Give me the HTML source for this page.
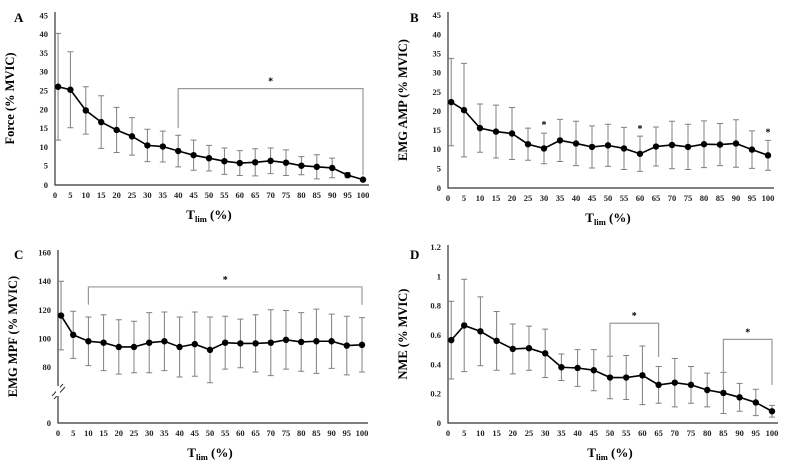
<!DOCTYPE html>
<html><head><meta charset="utf-8"><style>
html,body{margin:0;padding:0;background:#fff;}
svg{display:block;font-family:"Liberation Serif",serif;font-weight:bold;}
</style></head><body>
<svg id="c" width="787" height="473" viewBox="0 0 787 473" xmlns="http://www.w3.org/2000/svg"></svg>
<script>
const xCats=[0,5,10,15,20,25,30,35,40,45,50,55,60,65,70,75,80,85,90,95,100];
const xPos=[1,5,10,15,20,25,30,35,40,45,50,55,60,65,70,75,80,85,90,95,100];
const forceMean=[26,25.2,19.7,16.6,14.5,12.8,10.4,10.1,8.9,7.8,7.0,6.2,5.7,5.9,6.3,5.8,5.0,4.7,4.4,2.5,1.3];
const forceSd=[14.2,10.1,6.3,7,6,5,4.3,4.1,4.2,4,3.4,3.5,3.3,3.6,3.4,3.4,2.4,3.2,2.6,0.7,0.3];
const ampMean=[22.3,20.2,15.5,14.6,14.1,11.3,10.2,12.3,11.5,10.6,11,10.2,8.8,10.7,11.1,10.6,11.3,11.2,11.5,9.9,8.4];
const ampSd=[11.4,12.2,6.3,6.9,6.8,4.2,4,5.5,5.8,5.5,5.5,5.5,4.6,5.1,6.2,5.9,6.1,5.5,6.2,4.9,3.9];
const mpfMean=[116,102.5,98,97,94,94,97,98,94,96,92,97,96.5,96.5,97,99,97.5,98,98,95,95.5];
const mpfSd=[24,16.5,17,19.5,19,18,21,20.5,21,22.5,23,18.5,17,20,23,20.5,20.5,22.5,19,20.5,19];
const nmeMean=[0.565,0.665,0.625,0.56,0.505,0.51,0.475,0.38,0.375,0.36,0.31,0.31,0.325,0.26,0.275,0.26,0.225,0.205,0.175,0.14,0.08];
const nmeSd=[0.265,0.315,0.235,0.2,0.17,0.15,0.165,0.09,0.125,0.14,0.145,0.15,0.2,0.125,0.165,0.125,0.115,0.14,0.095,0.09,0.04];
const forceTicks=[0,5,10,15,20,25,30,35,40,45];
const ampTicks=[0,5,10,15,20,25,30,35,40,45];
const mpfTicks=[0,80,100,120,140,160];
const nmeTicks=["0","0.2","0.4","0.6","0.8","1","1.2"];

const svg=document.getElementById('c');
const NS='http://www.w3.org/2000/svg';
function mk(tag,attrs,parent){const e=document.createElementNS(NS,tag);for(const k in attrs)e.setAttribute(k,attrs[k]);(parent||svg).appendChild(e);return e;}
function txt(s,attrs,parent){const e=mk('text',attrs,parent);e.textContent=s;return e;}

function panel(o){
  const g=mk('g',{});
  
  
  const X=v=>o.x0+(v/100)*(o.x1-o.x0);
  const Y=o.Y;
  // axes
  const ax=mk('path',{d:`M${o.x0} ${o.yTop}V${o.yBot}H${o.x1+6}`,stroke:'#333',fill:'none','stroke-width':1.2},g);
  
  
  // y ticks
  o.ticks.forEach(t=>{
    const l=txt(String(t),{x:o.x0-7,y:(t==0?o.yBot:Y(parseFloat(t)))+3,'text-anchor':'end','font-size':8.5,fill:'#222'},g);
    
    
  });
  // x labels
  xCats.forEach(c=>{
    const l=txt(String(c),{x:X(c),y:o.yBot+13,'text-anchor':'middle','font-size':8.5,fill:'#222'},g);
    
    
  });
  // error bars
  o.mean.forEach((m,i)=>{
    const x=X(xPos[i]),hi=Y(m+o.sd[i]),lo=Math.min(Y(Math.max(m-o.sd[i],o.minV)),o.yBot);
    const e=mk('path',{d:`M${x} ${hi}V${lo}M${x-3} ${hi}H${x+3}M${x-3} ${lo}H${x+3}`,stroke:'#808080','stroke-width':1,fill:'none'},g);
    
    
  });
  // line
  const ln=mk('polyline',{points:o.mean.map((m,i)=>X(xPos[i])+','+Y(m)).join(' '),fill:'none',stroke:'#000','stroke-width':1.6},g);
  
  
  o.mean.forEach((m,i)=>{
    const p=mk('circle',{cx:X(xPos[i]),cy:Y(m),r:3.2,fill:'#000'},g);
    
    
  });
  // brackets
  (o.brackets||[]).forEach(b=>{
    const yb=Y(b[2]);
    const br=mk('path',{d:`M${X(b[0])} ${Y(b[3])}V${yb}H${X(b[1])}V${Y(b[4])}`,stroke:'#999','stroke-width':1.2,fill:'none'},g);
    
    
    const s=txt('*',{x:(X(b[0])+X(b[1]))/2,y:yb-4,'text-anchor':'middle','font-size':10},g);
    
    
  });
  (o.stars||[]).forEach(s=>{
    const t=txt('*',{x:X(s[0]),y:Y(s[1])+3,'text-anchor':'middle','font-size':10},g);
    
    
  });
  // labels
  const pl=txt(o.letter,{x:o.lx,y:o.ly,'font-size':13},g);
  
  
  const yc=(o.yTop+o.yBot)/2;
  const yt=txt(o.ytitle,{x:o.x0-41,y:yc,'text-anchor':'middle','font-size':12.5,transform:`rotate(-90 ${o.x0-41} ${yc})`},g);
  
  
  const xt=mk('text',{x:(o.x0+o.x1)/2,y:o.yBot+34,'text-anchor':'middle','font-size':13},g);
  xt.innerHTML='T<tspan font-size="8.5" dy="3">lim</tspan><tspan dy="-3"> (%)</tspan>';
  
  
  return {g,X,Y};
}

panel({name:'panel-a-force',letter:'A',lx:14,ly:22,x0:55,x1:363,yTop:12,yBot:185,ticks:forceTicks,
  Y:v=>184.5-v*3.76,mean:forceMean,sd:forceSd,minV:0,ytitle:'Force (% MVIC)',
  brackets:[[40,100,25.5,15,2.5]]});
panel({name:'panel-b-emg-amp',letter:'B',lx:410,ly:22,x0:448,x1:768,yTop:12,yBot:188,ticks:ampTicks,
  Y:v=>187.5-v*3.83,mean:ampMean,sd:ampSd,minV:0,ytitle:'EMG AMP (% MVIC)',
  stars:[[30,16.3],[60,15.3],[100,14.3]]});
const pc=panel({name:'panel-c-emg-mpf',letter:'C',lx:14,ly:259,x0:58,x1:362,yTop:250,yBot:423,ticks:mpfTicks,
  Y:v=>367+(80-v)*1.43,mean:mpfMean,sd:mpfSd,minV:60,ytitle:'EMG MPF (% MVIC)',
  brackets:[[10,100,136,123.5,123.5]]});
const brk=mk('path',{d:'M52 396L63 384M54 399L65 387',stroke:'#333','stroke-width':1,fill:'none'},pc.g);


mk('rect',{x:56,y:386,width:4,height:10,fill:'#fff'},pc.g);
panel({name:'panel-d-nme',letter:'D',lx:410,ly:259,x0:448,x1:772,yTop:245,yBot:423,ticks:nmeTicks,
  Y:v=>423-v*146.7,mean:nmeMean,sd:nmeSd,minV:0,ytitle:'NME (% MVIC)',
  brackets:[[50,65,0.68,0.45,0.45],[85,100,0.57,0.26,0.26]]});
</script>
</body></html>
